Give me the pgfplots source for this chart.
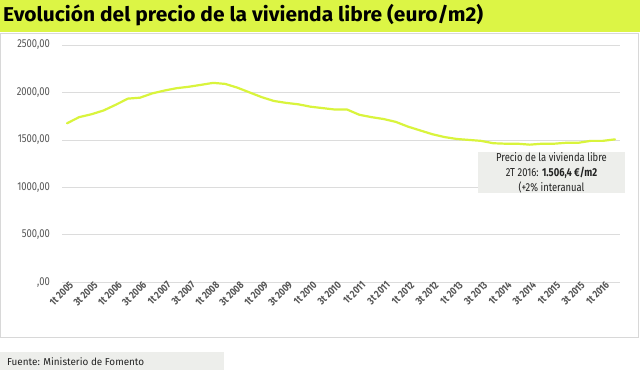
\documentclass[border=0pt]{standalone}
\usepackage{graphicx}
\usepackage{pgfplots}
\pgfplotsset{compat=1.18}
\usepackage{fontspec}
\setmainfont{Fira Sans}
\newfontfamily\condfont[FakeStretch=0.82]{Fira Sans}
\definecolor{baryellow}{HTML}{DCF545}
\definecolor{lineyellow}{HTML}{D9F43C}
\definecolor{gridgray}{HTML}{DCDCDC}
\definecolor{panelgray}{HTML}{D8D8D8}
\definecolor{boxgray}{HTML}{EDEEEB}
\definecolor{labelgray}{HTML}{555555}
\definecolor{textdark}{HTML}{222222}

\pgfplotstableread{
idx val
0 1675
1 1740
2 1770
3 1810
4 1870
5 1935
6 1945
7 1990
8 2020
9 2045
10 2060
11 2080
12 2101
13 2090
14 2050
15 2000
16 1950
17 1910
18 1890
19 1875
20 1850
21 1835
22 1820
23 1820
24 1765
25 1740
26 1720
27 1690
28 1640
29 1600
30 1560
31 1530
32 1510
33 1500
34 1490
35 1465
36 1460
37 1460
38 1450
39 1460
40 1460
41 1470
42 1470
43 1490
44 1490
45 1506
}\datatable

\begin{document}
\begin{tikzpicture}[x=1pt,y=1pt]
\fill[white] (0,0) rectangle (640,371);
\fill[baryellow] (0,371) rectangle (640,339);
\draw[panelgray, line width=0.8pt] (0.5,337.5) rectangle (638.5,33.5);
\node[anchor=base west, inner sep=0, text=black] at (3,349)
  {\resizebox{480pt}{\height}{\bfseries\fontsize{20}{20}\selectfont Evolución del precio de la vivienda libre (euro/m2)}};
\fill[boxgray] (0,19) rectangle (224,1);
\node[anchor=base west, inner sep=0, text=textdark] at (7,5.5)
  {\resizebox{137pt}{\height}{\fontsize{10}{10}\selectfont Fuente: Ministerio de Fomento}};

\begin{axis}[
  at={(62pt,88.7pt)}, anchor=south west,
  scale only axis, width=558pt, height=237.3pt,
  xmin=-0.41, xmax=45.41, ymin=0, ymax=2500,
  axis line style={draw=none},
  tick style={draw=none},
  ymajorgrids,
  grid style={color=gridgray, line width=0.8pt},
  ytick={0,500,1000,1500,2000,2500},
  yticklabels={{,00},{500,00},{1000,00},{1500,00},{2000,00},{2500,00}},
  yticklabel style={font=\condfont\fontsize{11.5}{11.5}\selectfont, text=labelgray, anchor=east, inner sep=0pt, xshift=-12pt},
  xtick={0,2,...,44},
  xticklabels={1t 2005,3t 2005,1t 2006,3t 2006,1t 2007,3t 2007,1t 2008,3t 2008,1t 2009,3t 2009,1t 2010,3t 2010,1t 2011,3t 2011,1t 2012,3t 2012,1t 2013,3t 2013,1t 2014,3t 2014,1t 2015,3t 2015,1t 2016},
  xticklabel style={rotate=45, anchor=east, font=\condfont\bfseries\fontsize{10.5}{10.5}\selectfont, text=labelgray, inner sep=0.5pt, xshift=3pt, yshift=-4pt},
  clip=false,
]
\addplot[line width=2.2pt, color=lineyellow, line join=round, line cap=round] table[x=idx, y=val] {\datatable};
\end{axis}

\fill[boxgray] (478,219) rectangle (625,178);
\node[anchor=base, inner sep=0, text=textdark] at (551.5,209.5)
  {\condfont\fontsize{11.5}{11.5}\selectfont Precio de la vivienda libre};
\node[anchor=base, inner sep=0, text=textdark] at (551.5,194.5)
  {\condfont\fontsize{11.5}{11.5}\selectfont 2T 2016: \textbf{1.506,4 €/m2}};
\node[anchor=base, inner sep=0, text=textdark] at (551.5,179.5)
  {\condfont\fontsize{11.5}{11.5}\selectfont (+2\% interanual};
\pgfresetboundingbox
\useasboundingbox (0,0) rectangle (640,371);
\end{tikzpicture}
\end{document}
